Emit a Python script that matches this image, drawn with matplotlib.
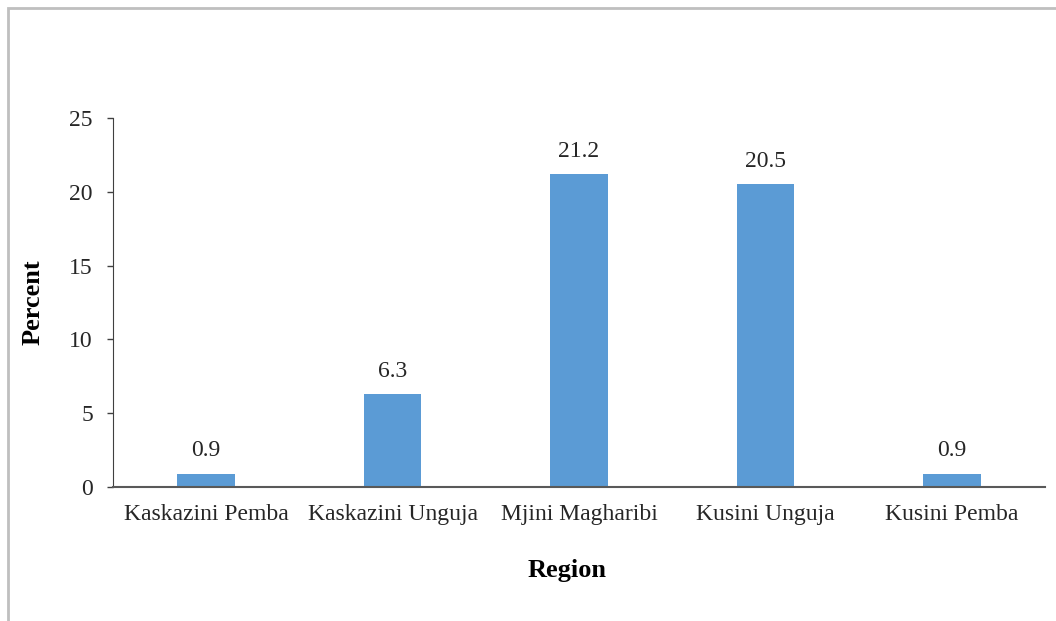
import matplotlib.pyplot as plt
from matplotlib.patches import Rectangle

regions = ["Kaskazini Pemba", "Kaskazini Unguja", "Mjini Magharibi", "Kusini Unguja", "Kusini Pemba"]
percent = [0.9, 6.3, 21.2, 20.5, 0.9]
yticks = [0, 5, 10, 15, 20, 25]

plt.rcParams['font.family'] = ['Liberation Serif', 'DejaVu Serif']

fig = plt.figure(figsize=(10.56, 6.21), dpi=100)
ax = fig.add_axes([113/1056, 1 - 487/621, 932/1056, (487 - 118)/621])

x = range(len(regions))
bars = ax.bar(x, percent, width=0.31, color='#5B9BD5')
for xi, v in zip(x, percent):
    ax.annotate(f"{v}", (xi, v), xytext=(0, 9), textcoords='offset points',
                ha='center', va='bottom', fontsize=17, color='#262626')

ax.set_xlim(-0.5, len(regions) - 0.5)
ax.set_ylim(0, 25)
ax.set_yticks(yticks)
ax.set_xticks(list(x))
ax.set_xticklabels(regions)
ax.tick_params(axis='x', length=0, pad=12, labelsize=17, labelcolor='#262626')
ax.tick_params(axis='y', length=4.5, width=1, pad=10, labelsize=17, labelcolor='#262626', color='#404040')

for s in ['top', 'right']:
    ax.spines[s].set_visible(False)
ax.spines['left'].set_color('#404040')
ax.spines['bottom'].set_color('#595959')
ax.spines['bottom'].set_linewidth(1.5)

ax.set_ylabel("Percent", fontsize=19, fontweight='bold', labelpad=18)
ax.set_xlabel("Region", fontsize=19, fontweight='bold', labelpad=25)
ax.xaxis.label.set_x(0.487)

# outer chart frame (cut off at the right and bottom)
fig.patches.append(Rectangle((8/1056, -0.05), 1.1, 1 - 8/621 + 0.05, transform=fig.transFigure,
                             fill=False, edgecolor='#BFBFBF', linewidth=2))

fig.savefig("out.png", dpi=100)
